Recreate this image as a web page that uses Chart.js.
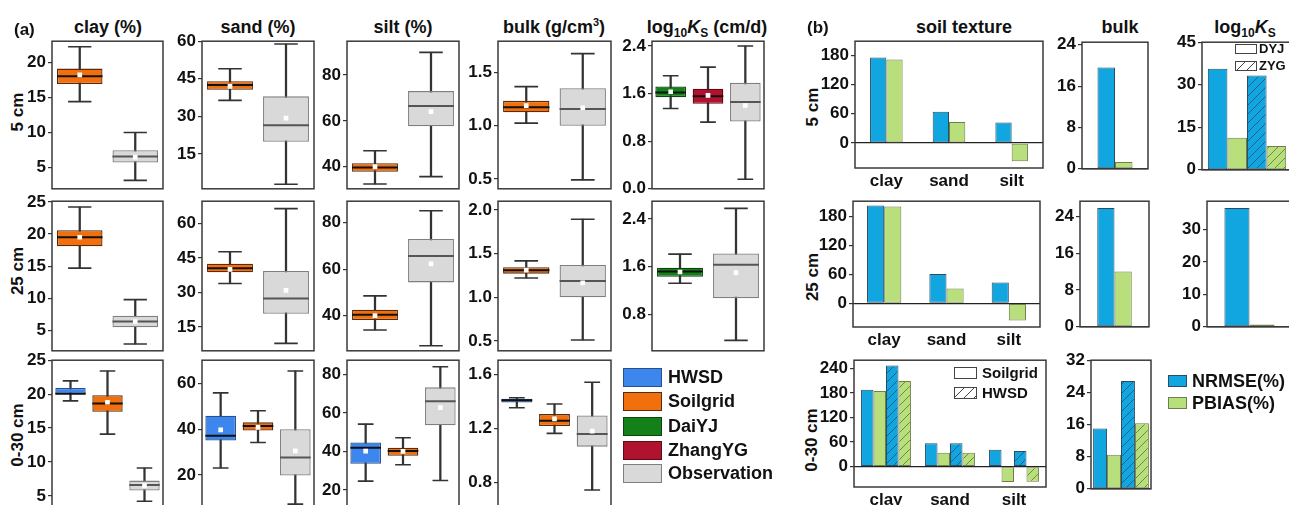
<!DOCTYPE html>
<html>
<head>
<meta charset="utf-8">
<script src="https://cdn.jsdelivr.net/npm/chart.js@4.4.1/dist/chart.umd.min.js"></script>
<style>
html, body { margin: 0; padding: 0; background: #fff; overflow: hidden; }
#fig { position: relative; width: 1289px; height: 505px; overflow: hidden;
       font-family: 'Liberation Sans', Arial, sans-serif; font-weight: bold; color: #111; }
#fig canvas { position: absolute; }
.t { position: absolute; top: 17px; font-size: 18px; line-height: 20px; white-space: nowrap; transform: translateX(-50%); }
.rl { position: absolute; font-size: 17px; line-height: 20px; white-space: nowrap; transform: translate(-50%, -50%) rotate(-90deg); }
.lg { position: absolute; white-space: nowrap; line-height: 20px; z-index: 2; }
.sw { position: absolute; box-sizing: border-box; z-index: 2; }
sup { font-size: 11px; vertical-align: 7px; line-height: 0; }
sub { font-size: 12px; vertical-align: -4px; line-height: 0; }
</style>
</head>
<body>
<div id="fig">
  <div class="lg" style="left:14px;top:20px;font-size:17px">(a)</div>
  <div class="t" style="left:108px">clay (%)</div>
  <div class="t" style="left:258px">sand (%)</div>
  <div class="t" style="left:403px">silt (%)</div>
  <div class="t" style="left:554px">bulk (g/cm<sup>3</sup>)</div>
  <div class="t" style="left:707px">log<sub>10</sub><i>K</i><sub>S</sub> (cm/d)</div>
  <div class="lg" style="left:807px;top:18px;font-size:17px">(b)</div>
  <div class="t" style="left:964px">soil texture</div>
  <div class="t" style="left:1120px">bulk</div>
  <div class="t" style="left:1245px">log<sub>10</sub><i>K</i><sub>S</sub></div>

  <div class="rl" style="left:18px;top:112px">5 cm</div>
  <div class="rl" style="left:18px;top:271px">25 cm</div>
  <div class="rl" style="left:18px;top:435px">0-30 cm</div>
  <div class="rl" style="left:813px;top:107px">5 cm</div>
  <div class="rl" style="left:813px;top:277px">25 cm</div>
  <div class="rl" style="left:812px;top:440px">0-30 cm</div>

  <div id="legA"></div>

  <div class="sw" style="left:1168px;top:375px;width:19px;height:12px;background:#12a6e0;border:1px solid #2a4d63"></div>
  <div class="lg" style="left:1192px;top:371px;font-size:18px">NRMSE(%)</div>
  <div class="sw" style="left:1168px;top:397px;width:19px;height:12px;background:#b9de7c;border:1px solid #6f7f4a"></div>
  <div class="lg" style="left:1192px;top:393px;font-size:18px">PBIAS(%)</div>

  <div class="sw" style="left:954px;top:367px;width:23px;height:12px;background:#fff;border:1px solid #444"></div>
  <div class="lg" style="left:982px;top:363px;font-size:15px">Soilgrid</div>
  <div class="sw" style="left:954px;top:387px;width:23px;height:12px;border:1px solid #444;background:repeating-linear-gradient(135deg,#fff 0 6px,#444 6px 7px)"></div>
  <div class="lg" style="left:982px;top:383px;font-size:15px">HWSD</div>

  <div class="sw" style="left:1235px;top:44px;width:22px;height:10px;background:#fff;border:1px solid #444"></div>
  <div class="lg" style="left:1259px;top:39px;font-size:13px">DYJ</div>
  <div class="sw" style="left:1235px;top:61px;width:22px;height:10px;border:1px solid #444;background:repeating-linear-gradient(135deg,#fff 0 6px,#444 6px 7px)"></div>
  <div class="lg" style="left:1259px;top:56px;font-size:13px">ZYG</div>
</div>

<script>
// ---- (a) box plots: each row is [min, q1, median, q3, max, mean] ----
const sources = ['HWSD', 'Soilgrid', 'DaiYJ', 'ZhangYG', 'Observation'];
const cats2 = ['Soilgrid', 'Observation'];
const cats3 = ['HWSD', 'Soilgrid', 'Observation'];
const catsKs5 = ['DaiYJ', 'ZhangYG', 'Observation'];
const catsKs25 = ['DaiYJ', 'Observation'];

const clay5 = [[14.4, 16.9, 18.0, 19.1, 22.2, 18.2], [3.2, 5.75, 6.6, 7.5, 10.0, 6.5]];
const sand5 = [[36.4, 40.6, 42.5, 44.0, 49.0, 42.0], [2.9, 19.9, 26.5, 38.0, 58.9, 29.3]];
const silt5 = [[32.4, 37.7, 39.6, 41.5, 46.9, 40.0], [35.6, 57.6, 66.5, 73.0, 89.9, 64.0]];
const bulk5 = [[1.025, 1.128, 1.175, 1.235, 1.369, 1.19], [0.49, 1.0, 1.157, 1.353, 1.68, 1.17]];
const ks5 = [[1.35, 1.54, 1.62, 1.72, 1.9, 1.63], [1.12, 1.43, 1.555, 1.68, 2.045, 1.57], [0.16, 1.13, 1.46, 1.78, 2.4, 1.4]];

const clay25 = [[14.7, 18.1, 19.5, 20.6, 24.2, 19.5], [2.9, 5.5, 6.4, 7.3, 9.8, 6.4]];
const sand25 = [[33.9, 38.8, 40.5, 42.5, 47.7, 40.0], [7.9, 20.8, 27.4, 39.3, 66.4, 30.9]];
const silt25 = [[33.8, 38.1, 40.3, 42.5, 48.5, 40.0], [27.0, 54.3, 65.7, 73.0, 85.2, 62.3]];
const bulk25 = [[1.22, 1.27, 1.308, 1.343, 1.416, 1.31], [0.51, 1.0, 1.185, 1.37, 1.894, 1.165]];
const ks25 = [[1.32, 1.43, 1.52, 1.58, 1.81, 1.51], [0.36, 1.07, 1.63, 1.82, 2.58, 1.5]];

const clay030 = [[19.0, 20.0, 20.05, 20.9, 21.95, null], [14.1, 17.4, 18.6, 19.85, 23.4, 18.8], [4.2, 5.8, 6.6, 7.25, 9.1, 6.5]];
const sand030 = [[23.0, 35.0, 37.1, 45.9, 55.9, 39.7], [34.2, 39.4, 41.4, 43.0, 48.1, 40.8], [7.2, 19.7, 27.6, 40.0, 65.5, 30.5]];
const silt030 = [[24.6, 33.6, 41.9, 44.7, 54.2, 40.2], [33.1, 37.8, 40.2, 41.9, 47.1, 40.0], [24.9, 53.6, 66.1, 73.3, 84.0, 62.8]];
const bulk030 = [[1.352, 1.39, 1.408, 1.418, 1.426, null], [1.163, 1.217, 1.256, 1.305, 1.38, 1.27], [0.745, 1.065, 1.158, 1.295, 1.54, 1.18]];

const clayTicks = [5, 10, 15, 20];
const clayTicksB = [5, 10, 15, 20, 25];
const sandTicks = [15, 30, 45, 60];
const sandTicks030 = [20, 40, 60];
const siltTicks = [40, 60, 80];
const siltTicks030 = [20, 40, 60, 80];
const bulkTicks = [0.5, 1.0, 1.5];
const bulkTicks25 = [0.5, 1.0, 1.5, 2.0];
const bulkTicks030 = [0.8, 1.2, 1.6];
const ksTicks5 = [0.0, 0.8, 1.6, 2.4];
const ksTicks25 = [0.8, 1.6, 2.4];

// ---- (b) NRMSE / PBIAS bars ----
const texCats = ['clay', 'sand', 'silt'];
const tex5Nrmse = [175, 64, 42];
const tex5Pbias = [171, 43, -37];
const tex25Nrmse = [202, 61, 43];
const tex25Pbias = [200, 31, -35];
const tex030SgNrmse = [188, 57, 41];
const tex030SgPbias = [185, 34, -38];
const tex030HwNrmse = [247, 57, 38];
const tex030HwPbias = [209, 34, -37];
const bulk5Nrmse = [19.6], bulk5Pbias = [1.3];
const bulk25Nrmse = [25.8], bulk25Pbias = [12.0];
const bulk030SgNrmse = [15.0], bulk030SgPbias = [8.45], bulk030HwNrmse = [26.8], bulk030HwPbias = [16.3];
const ks5DyjNrmse = [35.6], ks5DyjPbias = [11.3], ks5ZygNrmse = [33.3], ks5ZygPbias = [8.4];
const ks25DyjNrmse = [36.6], ks25DyjPbias = [0.7];

const texTicks = [0, 60, 120, 180];
const texTicks030 = [0, 60, 120, 180, 240];
const bTicks = [0, 8, 16, 24];
const bTicks030 = [0, 8, 16, 24, 32];
const kTicks5 = [0, 15, 30, 45];
const kTicks25 = [0, 10, 20, 30];

// ---- styling ----
const fill = { HWSD: '#3d86ee', Soilgrid: '#f26f0d', DaiYJ: '#13801a', ZhangYG: '#b1132f', Observation: '#d9d9d9' };
const edge = { HWSD: '#27508f', Soilgrid: '#5a2a0a', DaiYJ: '#0b4410', ZhangYG: '#5c0a18', Observation: '#7f7f7f' };
const BLUE = '#12a6e0', GREEN = '#b9de7c';
const fontTick = { family: "'Liberation Sans', Arial, sans-serif", size: 17, weight: 'bold' };
const Y_W = 50, PAD_T = 12, PAD_B = 12, PAD_R = 6;

// legend for (a)
const legA = document.getElementById('legA');
const legTops = [368, 392, 417, 441, 464];
sources.forEach((s, i) => {
  legA.insertAdjacentHTML('beforeend',
    `<div class="sw" style="left:623px;top:${legTops[i]}px;width:39px;height:19px;background:${fill[s]};border:1px solid ${edge[s]}"></div>` +
    `<div class="lg" style="left:668px;top:${legTops[i] - 1}px;font-size:18px">${s}</div>`);
});

const frame = {
  id: 'frame',
  afterDatasetsDraw(chart) {
    const a = chart.chartArea, c = chart.ctx;
    c.save();
    c.strokeStyle = '#3a3a3a';
    c.lineWidth = 1.5;
    c.strokeRect(a.left, a.top, a.right - a.left, a.bottom - a.top);
    c.restore();
  }
};

function hatch(bg, line) {
  const c = document.createElement('canvas');
  c.width = c.height = 9;
  const g = c.getContext('2d');
  g.fillStyle = bg;
  g.fillRect(0, 0, 9, 9);
  g.strokeStyle = line;
  g.lineWidth = 1;
  g.beginPath();
  g.moveTo(0, 9); g.lineTo(9, 0);
  g.moveTo(-4.5, 4.5); g.lineTo(4.5, -4.5);
  g.moveTo(4.5, 13.5); g.lineTo(13.5, 4.5);
  g.stroke();
  return g.createPattern(c, 'repeat');
}

function makeCanvas(rect, xH) {
  const [l, t, r, b] = rect;
  const cv = document.createElement('canvas');
  cv.width = Y_W + (r - l) + PAD_R;
  cv.height = PAD_T + (b - t) + xH + PAD_B;
  cv.style.left = (l - Y_W) + 'px';
  cv.style.top = (t - PAD_T) + 'px';
  document.getElementById('fig').appendChild(cv);
  return cv;
}

function yAxis(min, max, ticks, dec, zeroLine) {
  return {
    min, max,
    afterFit: s => { s.width = Y_W; },
    afterBuildTicks: s => { s.ticks = ticks.map(v => ({ value: v })); },
    border: { display: false },
    grid: {
      drawOnChartArea: zeroLine,
      color: ctx => (ctx.tick && ctx.tick.value === 0) ? '#222' : 'rgba(0,0,0,0)',
      tickColor: '#333', tickLength: 4, lineWidth: 1.2
    },
    ticks: { font: fontTick, color: '#111', padding: 2, autoSkip: false, callback: v => Number(v).toFixed(dec) }
  };
}

function baseOptions(y, x) {
  return {
    responsive: false, animation: false, devicePixelRatio: 1,
    layout: { autoPadding: false, padding: { left: 0, top: PAD_T, right: PAD_R, bottom: PAD_B } },
    plugins: { legend: { display: false }, tooltip: { enabled: false } },
    scales: { x, y }
  };
}

function boxPanel(rect, cats, rows, yMin, yMax, ticks, dec) {
  const cv = makeCanvas(rect, 0);
  const catW = (rect[2] - rect[0]) / cats.length;
  const pt = (data, style, radius, width, color, order) => ({
    type: 'line', data, showLine: false, pointStyle: style, pointRadius: radius,
    pointHoverRadius: radius, pointBorderWidth: width, pointBorderColor: color,
    pointBackgroundColor: '#fff', order
  });
  new Chart(cv, {
    type: 'bar',
    data: {
      labels: cats,
      datasets: [
        pt(rows.map(r => r[5]), 'rect', 3.3, 0, '#fff', 0),
        pt(rows.map(r => r[2]), 'line', catW * 0.41, 2, cats.map(c => c === 'Observation' ? '#555' : '#111'), 1),
        { data: rows.map(r => [r[1], r[3]]), grouped: false, barPercentage: 0.82, categoryPercentage: 1,
          backgroundColor: cats.map(c => fill[c]), borderColor: cats.map(c => edge[c]),
          borderWidth: 1.3, borderSkipped: false, order: 2 },
        { data: rows.map(r => [r[0], r[4]]), grouped: false, barThickness: 1.6, backgroundColor: '#333', order: 3 },
        pt(rows.map(r => r[4]), 'line', catW * 0.21, 1.6, '#333', 3),
        pt(rows.map(r => r[0]), 'line', catW * 0.21, 1.6, '#333', 3)
      ]
    },
    options: baseOptions(yAxis(yMin, yMax, ticks, dec, false), { display: false, offset: true }),
    plugins: [frame]
  });
}

function barPanel(rect, cats, series, yMin, yMax, ticks, pct, showX) {
  const cv = makeCanvas(rect, showX ? 26 : 0);
  const x = showX ? {
    afterFit: s => { s.height = 26; },
    grid: { display: false, drawTicks: false }, border: { display: false },
    ticks: { font: fontTick, color: '#111', padding: 3 }
  } : { display: false };
  new Chart(cv, {
    type: 'bar',
    data: {
      labels: cats,
      datasets: series.map(s => ({
        data: s[0], backgroundColor: s[1], borderColor: s[2], borderWidth: 1,
        borderSkipped: false, categoryPercentage: pct, barPercentage: 1
      }))
    },
    options: baseOptions(yAxis(yMin, yMax, ticks, 0, true), x),
    plugins: [frame]
  });
}

// (a) panels: plot rect [left, top, right, bottom]
boxPanel([52, 41, 163, 189], cats2, clay5, 2.0, 23.0, clayTicks, 0);
boxPanel([202, 41, 314, 189], cats2, sand5, 1.1, 60, sandTicks, 0);
boxPanel([347, 41, 459, 189], cats2, silt5, 30.3, 94.8, siltTicks, 0);
boxPanel([498, 41, 611, 189], cats2, bulk5, 0.406, 1.797, bulkTicks, 1);
boxPanel([652, 41, 764, 189], catsKs5, ks5, 0, 2.48, ksTicks5, 1);

boxPanel([52, 201, 163, 351], cats2, clay25, 1.85, 25.1, clayTicksB, 0);
boxPanel([202, 201, 314, 351], cats2, sand25, 4.7, 69.6, sandTicks, 0);
boxPanel([347, 201, 459, 351], cats2, silt25, 24.8, 89.3, siltTicks, 0);
boxPanel([498, 201, 611, 351], cats2, bulk25, 0.386, 2.10, bulkTicks25, 1);
boxPanel([652, 201, 764, 351], catsKs25, ks25, 0.185, 2.70, ksTicks25, 1);

boxPanel([52, 360, 163, 520], cats3, clay030, 1.47, 25, clayTicksB, 0);
boxPanel([202, 360, 314, 520], cats3, sand030, 0.33, 70.2, sandTicks030, 0);
boxPanel([347, 360, 459, 520], cats3, silt030, 4.5, 87.4, siltTicks030, 0);
boxPanel([498, 360, 611, 520], cats3, bulk030, 0.525, 1.703, bulkTicks030, 1);

// (b) panels
const E_B = '#2a4d63', E_G = '#6f7f4a';
const HB = hatch(BLUE, '#1f5f8f'), HG = hatch(GREEN, '#6c8c3c');

barPanel([855, 41, 1043, 168], texCats, [[tex5Nrmse, BLUE, E_B], [tex5Pbias, GREEN, E_G]], -51, 208.6, texTicks, 0.52, true);
barPanel([853, 201, 1040, 327], texCats, [[tex25Nrmse, BLUE, E_B], [tex25Pbias, GREEN, E_G]], -48.5, 210.8, texTicks, 0.55, true);
barPanel([854, 360, 1046, 487], texCats, [[tex030SgNrmse, BLUE, E_B], [tex030SgPbias, GREEN, E_G],
  [tex030HwNrmse, HB, E_B], [tex030HwPbias, HG, E_G]], -50, 260, texTicks030, 0.78, true);

barPanel([1082, 42, 1148, 169], ['bulk'], [[bulk5Nrmse, BLUE, E_B], [bulk5Pbias, GREEN, E_G]], 0, 24.5, bTicks, 0.53, false);
barPanel([1080, 201, 1149, 327], ['bulk'], [[bulk25Nrmse, BLUE, E_B], [bulk25Pbias, GREEN, E_G]], 0, 27.3, bTicks, 0.5, false);
barPanel([1091, 360, 1151, 489], ['bulk'], [[bulk030SgNrmse, BLUE, E_B], [bulk030SgPbias, GREEN, E_G],
  [bulk030HwNrmse, HB, E_B], [bulk030HwPbias, HG, E_G]], 0, 32, bTicks030, 0.93, false);

barPanel([1202, 42, 1292, 170], ['Ks'], [[ks5DyjNrmse, BLUE, E_B], [ks5DyjPbias, GREEN, E_G],
  [ks5ZygNrmse, HB, E_B], [ks5ZygPbias, HG, E_G]], 0, 45, kTicks5, 0.87, false);
barPanel([1207, 201, 1292, 327], ['Ks'], [[ks25DyjNrmse, BLUE, E_B], [ks25DyjPbias, GREEN, E_G]], 0, 38.7, kTicks25, 0.59, false);
</script>
</body>
</html>
